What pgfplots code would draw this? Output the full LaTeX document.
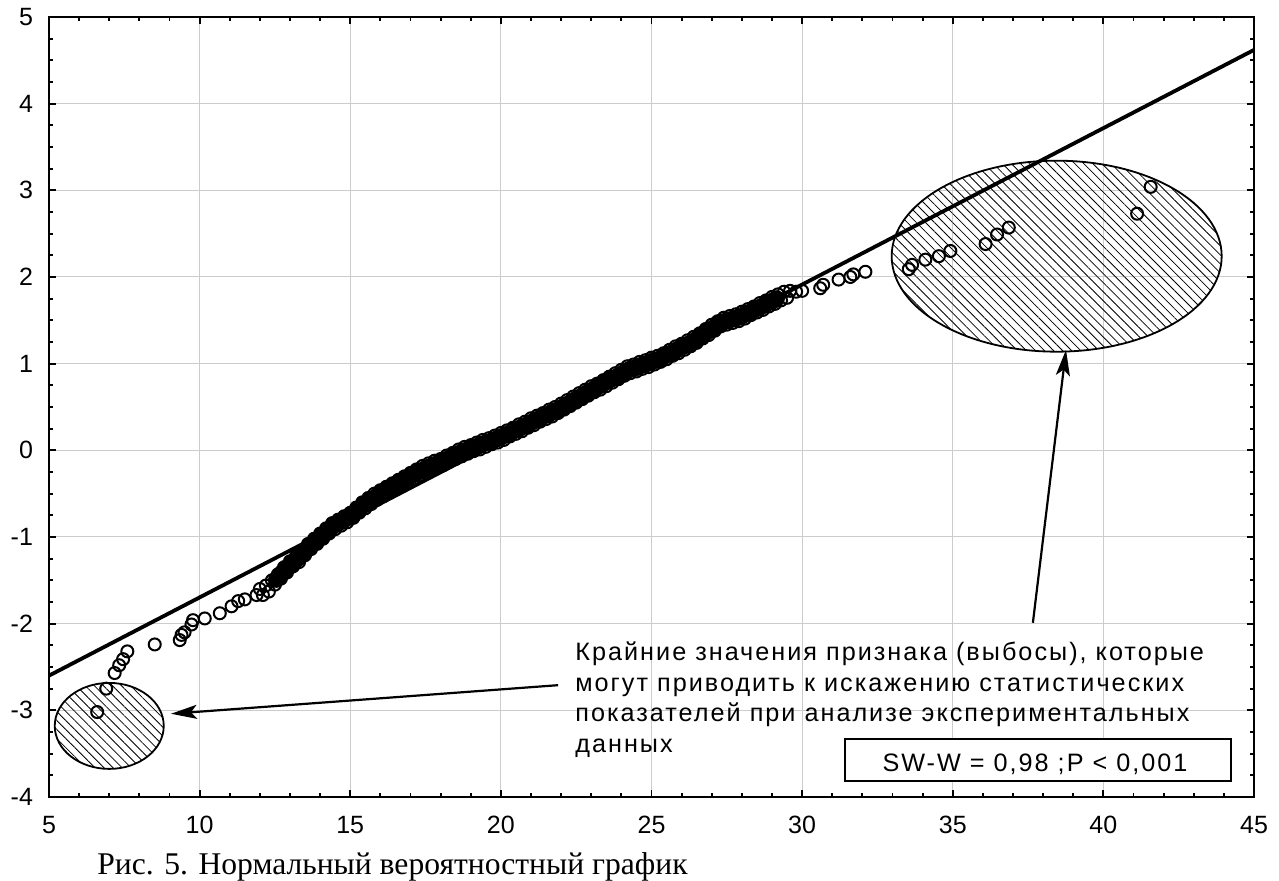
\documentclass[border=0pt]{standalone}
\usepackage{fontspec}
\setmainfont{Liberation Sans}
\newfontfamily\capfont{Liberation Serif}
\usepackage{pgfplots}
\usepackage{pgfplotstable}
\pgfplotsset{compat=1.18}
\usetikzlibrary{patterns.meta,arrows.meta}

% normal probability plot: observed value vs. expected normal quantile
\pgfplotstableread{
x y
6.60 -3.02
6.90 -2.75
7.18 -2.57
7.33 -2.48
7.46 -2.41
7.60 -2.32
8.51 -2.24
9.34 -2.19
9.40 -2.13
9.50 -2.10
9.73 -2.01
9.78 -1.96
10.17 -1.94
10.67 -1.88
11.06 -1.80
11.28 -1.74
11.50 -1.72
11.89 -1.67
12.0 -1.60
12.1 -1.67
12.2 -1.56
12.3 -1.63
12.4 -1.50
12.5 -1.55
12.6 -1.43
12.7 -1.48
12.8 -1.35
12.9 -1.41
13.0 -1.28
13.1 -1.34
13.2 -1.22
13.3 -1.29
13.4 -1.16
13.5 -1.21
13.6 -1.08
13.7 -1.14
13.8 -1.02
13.9 -1.08
14.0 -0.96
14.1 -1.02
14.2 -0.90
14.3 -0.96
14.4 -0.84
14.5 -0.91
14.6 -0.80
14.7 -0.87
14.8 -0.76
14.9 -0.83
15.0 -0.72
15.1 -0.78
15.2 -0.66
15.3 -0.72
15.4 -0.60
15.5 -0.67
15.6 -0.55
15.7 -0.62
15.8 -0.50
15.9 -0.57
16.0 -0.46
16.1 -0.53
16.2 -0.42
16.3 -0.49
16.4 -0.38
16.5 -0.45
16.6 -0.34
16.7 -0.41
16.8 -0.30
16.9 -0.37
17.0 -0.26
17.1 -0.33
17.2 -0.22
17.3 -0.29
17.4 -0.18
17.5 -0.26
17.6 -0.15
17.7 -0.23
17.8 -0.12
17.9 -0.20
18.0 -0.10
18.1 -0.17
18.2 -0.06
18.3 -0.13
18.4 -0.03
18.5 -0.10
18.6 0.01
18.7 -0.07
18.8 0.04
18.9 -0.04
19.0 0.06
19.1 -0.01
19.2 0.09
19.3 0.01
19.4 0.12
19.5 0.04
19.6 0.14
19.7 0.07
19.8 0.17
19.9 0.09
20.0 0.20
20.1 0.12
20.2 0.23
20.3 0.16
20.4 0.26
20.5 0.19
20.6 0.30
20.7 0.22
20.8 0.33
20.9 0.26
21.0 0.37
21.1 0.29
21.2 0.40
21.3 0.33
21.4 0.43
21.5 0.36
21.6 0.47
21.7 0.39
21.8 0.50
21.9 0.43
22.0 0.54
22.1 0.47
22.2 0.58
22.3 0.51
22.4 0.62
22.5 0.55
22.6 0.66
22.7 0.59
22.8 0.70
22.9 0.63
23.0 0.74
23.1 0.67
23.2 0.77
23.3 0.70
23.4 0.81
23.5 0.74
23.6 0.85
23.7 0.78
23.8 0.89
23.9 0.82
24.0 0.93
24.1 0.86
24.2 0.97
24.3 0.89
24.4 0.99
24.5 0.91
24.6 1.02
24.7 0.94
24.8 1.04
24.9 0.96
25.0 1.07
25.1 0.99
25.2 1.09
25.3 1.02
25.4 1.12
25.5 1.05
25.6 1.16
25.7 1.09
25.8 1.20
25.9 1.12
26.0 1.23
26.1 1.16
26.2 1.27
26.3 1.20
26.4 1.31
26.5 1.24
26.6 1.35
26.7 1.29
26.8 1.40
26.9 1.33
27.0 1.45
27.1 1.38
27.2 1.49
27.3 1.43
27.4 1.53
27.5 1.45
27.6 1.55
27.7 1.47
27.8 1.57
27.9 1.49
28.0 1.60
28.1 1.52
28.2 1.63
28.3 1.56
28.4 1.66
28.5 1.59
28.6 1.70
28.7 1.62
28.8 1.73
28.9 1.66
29.0 1.77
29.1 1.69
29.2 1.80
29.3 1.73
29.4 1.83
29.5 1.76
29.6 1.84
29.8 1.83
30.0 1.84
30.60 1.87
30.70 1.91
31.21 1.97
31.60 2.00
31.70 2.03
32.10 2.06
33.54 2.09
33.65 2.14
34.09 2.20
34.54 2.24
34.92 2.30
36.09 2.38
36.47 2.49
36.86 2.57
41.12 2.73
41.57 3.04
}\qqdata

% the dense middle of the sample, where the circles merge into a solid band
\pgfplotstableread{
x y
12.55 -1.49
12.65 -1.45
12.75 -1.41
12.85 -1.38
12.95 -1.34
13.05 -1.31
13.15 -1.28
13.25 -1.25
13.35 -1.22
13.45 -1.18
13.55 -1.14
13.65 -1.11
13.75 -1.08
13.85 -1.05
13.95 -1.02
14.05 -0.99
14.15 -0.96
14.25 -0.93
14.35 -0.90
14.45 -0.87
14.55 -0.85
14.65 -0.83
14.75 -0.81
14.85 -0.79
14.95 -0.77
15.05 -0.75
15.15 -0.72
15.25 -0.69
15.35 -0.66
15.45 -0.63
15.55 -0.61
15.65 -0.58
15.75 -0.56
15.85 -0.54
15.95 -0.51
16.05 -0.49
16.15 -0.47
16.25 -0.45
16.35 -0.43
16.45 -0.41
16.55 -0.39
16.65 -0.37
16.75 -0.35
16.85 -0.33
16.95 -0.31
17.05 -0.29
17.15 -0.27
17.25 -0.25
17.35 -0.24
17.45 -0.22
17.55 -0.20
17.65 -0.19
17.75 -0.17
17.85 -0.16
17.95 -0.15
18.05 -0.13
18.15 -0.11
18.25 -0.10
18.35 -0.08
18.45 -0.06
18.55 -0.05
18.65 -0.03
18.75 -0.01
18.85 0.00
18.95 0.01
19.05 0.03
19.15 0.04
19.25 0.05
19.35 0.07
19.45 0.08
19.55 0.09
19.65 0.10
19.75 0.12
19.85 0.13
19.95 0.14
20.05 0.16
20.15 0.18
20.25 0.19
20.35 0.21
20.45 0.23
20.55 0.24
20.65 0.26
20.75 0.28
20.85 0.29
20.95 0.31
21.05 0.33
21.15 0.35
21.25 0.36
21.35 0.38
21.45 0.40
21.55 0.41
21.65 0.43
21.75 0.45
21.85 0.46
21.95 0.48
22.05 0.50
22.15 0.52
22.25 0.54
22.35 0.56
22.45 0.58
22.55 0.60
22.65 0.62
22.75 0.64
22.85 0.66
22.95 0.68
23.05 0.70
23.15 0.72
23.25 0.74
23.35 0.76
23.45 0.78
23.55 0.80
23.65 0.82
23.75 0.83
23.85 0.85
23.95 0.87
24.05 0.89
24.15 0.91
24.25 0.93
24.35 0.94
24.45 0.95
24.55 0.96
24.65 0.98
24.75 0.99
24.85 1.00
24.95 1.02
25.05 1.03
25.15 1.04
25.25 1.05
25.35 1.07
25.45 1.09
25.55 1.11
25.65 1.12
25.75 1.14
25.85 1.16
25.95 1.18
26.05 1.20
26.15 1.21
26.25 1.23
26.35 1.25
26.45 1.27
26.55 1.30
26.65 1.32
26.75 1.34
26.85 1.37
26.95 1.39
27.05 1.41
27.15 1.44
27.25 1.46
27.35 1.48
27.45 1.49
27.55 1.50
27.65 1.51
27.75 1.52
27.85 1.53
27.95 1.55
28.05 1.56
28.15 1.58
28.25 1.59
28.35 1.61
28.45 1.63
28.55 1.64
28.65 1.66
28.75 1.68
28.85 1.70
28.95 1.71
29.05 1.73
29.15 1.75
}\qqband

\begin{document}
\begin{tikzpicture}
\begin{axis}[
  scale only axis, width=602.5pt, height=390pt,
  xmin=5, xmax=45, ymin=-4, ymax=5,
  xtick={5,10,...,45}, ytick={-4,-3,...,5},
  xticklabels={5,10,15,20,25,30,35,40,45},
  yticklabels={-4,-3,-2,-1,0,1,2,3,4,5},
  minor x tick num=4, minor y tick num=3,
  xtick pos=both, ytick pos=both,
  xticklabel pos=lower, yticklabel pos=left,
  tick align=inside,
  major tick length=3.5pt, minor tick length=2.2pt,
  tick style={black, line width=0.9pt},
  axis line style={line width=1.3pt},
  grid=major, major grid style={color=black!20, line width=0.5pt},
  ticklabel style={font=\fontsize{12.5}{14}\selectfont},
  xticklabel style={yshift=-6pt},
  yticklabel style={xshift=-4.5pt},
]
% outlier regions
\draw[line width=0.9pt, pattern={Lines[angle=-45, distance=3.2pt, line width=0.4pt]}]
  (axis cs:38.45,2.24) ellipse [x radius=82.5pt, y radius=47.75pt];
\draw[line width=0.9pt, pattern={Lines[angle=-45, distance=3.2pt, line width=0.4pt]}]
  (axis cs:7.0,-3.18) ellipse [x radius=27.25pt, y radius=21.5pt];

\addplot[black, line width=1.9pt, mark=none] coordinates {(5,-2.60) (45,4.62)};
\addplot[only marks, mark=*, mark size=3.7pt, black, line width=1pt] table[x=x, y=y] {\qqband};
\addplot[only marks, mark=o, mark size=3pt, black, line width=1pt] table[x=x, y=y] {\qqdata};

\draw[line width=1.1pt, -{Stealth[length=13pt, width=7pt, inset=3pt]}]
  (axis cs:21.9,-2.71) -- (axis cs:9.05,-3.04);
\draw[line width=1.1pt, -{Stealth[length=13pt, width=7pt, inset=3pt]}]
  (axis cs:37.66,-1.99) -- (axis cs:38.76,1.16);

\begin{scope}[every node/.style={anchor=base west, inner sep=0pt,
    font=\fontsize{12.6}{15}\selectfont\addfontfeature{LetterSpace=8}}]
\node at (axis cs:22.46,-2.43) {Крайние значения признака (выбосы), которые};
\node at (axis cs:22.46,-2.78) {могут приводить к искажению статистических};
\node at (axis cs:22.46,-3.13) {показателей при анализе экспериментальных};
\node at (axis cs:22.46,-3.49) {данных};
\end{scope}

\draw[line width=1pt, fill=white] (axis cs:31.42,-3.33) rectangle (axis cs:44.24,-3.81);
\node[anchor=base, inner sep=0pt, font=\fontsize{12.6}{15}\selectfont\addfontfeature{LetterSpace=8}]
  at (axis cs:37.73,-3.71) {SW-W = 0,98 ;P < 0,001};
\end{axis}
\node[anchor=base west, inner sep=0pt, font=\capfont\fontsize{15.8}{19}\selectfont]
  at ([xshift=24pt, yshift=-39pt]current axis.south west) {Рис. 5. Нормальный вероятностный график};
\pgfresetboundingbox
\useasboundingbox ([xshift=-24.5pt, yshift=-42pt]current axis.south west)
  rectangle ([xshift=12.5pt, yshift=8.5pt]current axis.north east);
\end{tikzpicture}
\end{document}
